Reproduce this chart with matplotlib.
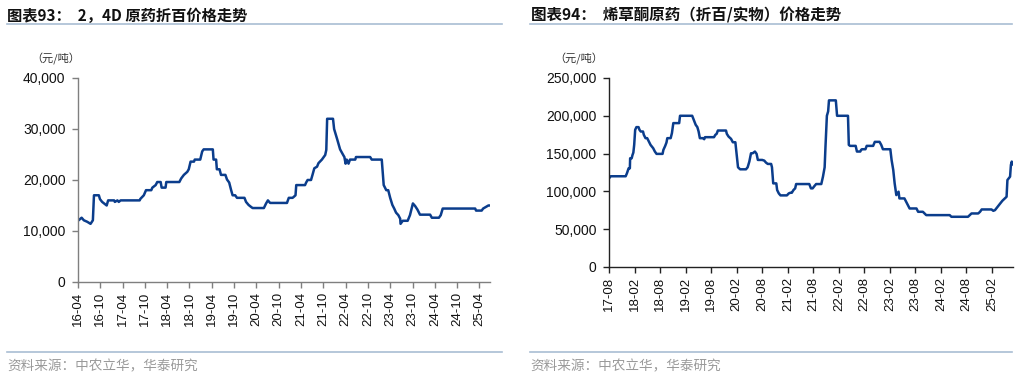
import matplotlib
matplotlib.use("Agg")
import matplotlib.pyplot as plt
import pandas as pd
from matplotlib.ticker import FuncFormatter

plt.rcParams['font.family'] = ['Liberation Sans', 'Noto Sans CJK SC', 'DejaVu Sans']

# ---------- Chart 93: 2,4D price ----------
d24_dates = [
    "2016-04-01", "2016-05-01", "2016-05-19", "2016-06-16", "2016-07-13", "2016-08-01",
    "2016-08-10", "2016-09-19", "2016-09-28", "2016-10-16", "2016-11-22", "2016-12-04",
    "2017-01-22", "2017-01-28", "2017-02-18", "2017-03-01", "2017-03-16", "2017-08-19",
    "2017-08-25", "2017-09-22", "2017-10-10", "2017-11-22", "2017-12-01", "2017-12-28",
    "2018-01-10", "2018-02-07", "2018-02-15", "2018-03-19", "2018-03-25", "2018-07-10",
    "2018-07-25", "2018-08-16", "2018-09-13", "2018-09-25", "2018-10-10", "2018-11-07",
    "2018-11-13", "2018-12-28", "2019-01-13", "2019-01-25", "2019-04-10", "2019-04-16",
    "2019-05-07", "2019-05-13", "2019-06-04", "2019-06-16", "2019-07-22", "2019-08-04",
    "2019-08-22", "2019-09-07", "2019-09-19", "2019-10-10", "2019-10-25", "2019-12-25",
    "2020-01-07", "2020-01-28", "2020-02-18", "2020-03-01", "2020-06-01", "2020-06-19",
    "2020-07-04", "2020-07-22", "2020-12-07", "2020-12-22", "2021-01-22", "2021-02-01",
    "2021-02-15", "2021-02-21", "2021-05-04", "2021-05-13", "2021-05-25", "2021-06-22",
    "2021-07-04", "2021-07-19", "2021-08-10", "2021-08-22", "2021-09-19", "2021-10-04",
    "2021-10-16", "2021-10-25", "2021-11-01", "2021-12-19", "2021-12-28", "2022-01-22",
    "2022-02-15", "2022-03-10", "2022-03-22", "2022-04-01", "2022-04-10", "2022-04-25",
    "2022-05-07", "2022-06-19", "2022-06-25", "2022-10-19", "2022-11-01", "2023-01-22",
    "2023-02-07", "2023-02-28", "2023-03-16", "2023-04-01", "2023-04-19", "2023-05-04",
    "2023-05-19", "2023-06-07", "2023-06-22", "2023-06-25", "2023-07-13", "2023-08-22",
    "2023-09-10", "2023-10-04", "2023-10-22", "2023-11-10", "2023-12-01", "2024-02-22",
    "2024-03-07", "2024-05-04", "2024-05-19", "2024-06-04", "2025-02-25", "2025-03-04",
    "2025-04-19", "2025-05-01", "2025-06-13", "2025-06-25",
]
d24_values = [
    12000, 12600, 12100, 11800, 11400, 12100,
    17000, 17000, 16250, 15700, 15000, 16000,
    16000, 15700, 16000, 15700, 16000, 16000,
    16300, 17000, 18000, 18000, 18500, 19000,
    19600, 19600, 18500, 18500, 19600, 19600,
    20300, 21000, 21600, 22100, 23600, 23600,
    24000, 24000, 25600, 26000, 26000, 24000,
    24000, 22100, 22100, 21000, 21000, 20100,
    19500, 18000, 17000, 17000, 16500, 16500,
    15700, 15100, 14700, 14500, 14500, 15400,
    16000, 15500, 15500, 16500, 16500, 16700,
    17000, 19000, 19000, 19500, 20000, 20000,
    21000, 22300, 22600, 23300, 24000, 24500,
    24900, 25900, 32000, 32000, 30000, 28000,
    26000, 25000, 24500, 23200, 24000, 23200,
    24000, 24000, 24500, 24500, 24000, 24000,
    19000, 18000, 18000, 16500, 15100, 14400,
    13600, 13100, 12400, 11400, 12000, 12000,
    13100, 15400, 14900, 14200, 13200, 13200,
    12600, 12600, 13100, 14400, 14400, 14000,
    14000, 14400, 15000, 15000,
]
d24_ticks = ["16-04", "16-10", "17-04", "17-10", "18-04", "18-10", "19-04", "19-10",
             "20-04", "20-10", "21-04", "21-10", "22-04", "22-10", "23-04", "23-10",
             "24-04", "24-10", "25-04"]

# ---------- Chart 94: clethodim price ----------
cle_dates = [
    "2017-08-01", "2017-08-13", "2017-11-28", "2017-12-07", "2017-12-19", "2017-12-28",
    "2017-12-30", "2018-01-10", "2018-01-16", "2018-01-22", "2018-01-28", "2018-02-04",
    "2018-02-13", "2018-02-28", "2018-03-07", "2018-03-16", "2018-04-01", "2018-04-07",
    "2018-04-19", "2018-05-01", "2018-05-13", "2018-05-25", "2018-06-13", "2018-06-25",
    "2018-07-07", "2018-08-19", "2018-08-25", "2018-09-07", "2018-09-16", "2018-09-22",
    "2018-10-16", "2018-10-25", "2018-11-04", "2018-12-16", "2018-12-22", "2019-03-19",
    "2019-04-01", "2019-04-13", "2019-04-25", "2019-05-04", "2019-05-13", "2019-06-07",
    "2019-06-13", "2019-06-19", "2019-08-22", "2019-09-01", "2019-09-10", "2019-09-19",
    "2019-11-16", "2019-11-22", "2019-12-04", "2019-12-22", "2020-01-04", "2020-01-22",
    "2020-02-01", "2020-02-10", "2020-02-25", "2020-04-07", "2020-04-19", "2020-05-01",
    "2020-05-13", "2020-05-25", "2020-06-10", "2020-06-22", "2020-07-01", "2020-08-01",
    "2020-08-16", "2020-08-28", "2020-09-10", "2020-10-04", "2020-10-10", "2020-10-19",
    "2020-11-10", "2020-11-16", "2020-11-28", "2020-12-10", "2021-01-25", "2021-02-07",
    "2021-02-19", "2021-03-01", "2021-03-13", "2021-03-25", "2021-04-01", "2021-07-04",
    "2021-07-13", "2021-07-16", "2021-07-28", "2021-08-10", "2021-08-22", "2021-09-28",
    "2021-10-10", "2021-10-22", "2021-10-28", "2021-11-07", "2021-11-16", "2021-11-22",
    "2022-01-10", "2022-01-19", "2022-04-07", "2022-04-13", "2022-04-22", "2022-06-01",
    "2022-06-10", "2022-07-04", "2022-07-10", "2022-07-16", "2022-08-10", "2022-08-19",
    "2022-10-04", "2022-10-16", "2022-11-19", "2022-12-01", "2022-12-13", "2023-02-04",
    "2023-02-13", "2023-02-25", "2023-03-07", "2023-03-19", "2023-04-04", "2023-04-10",
    "2023-05-16", "2023-06-10", "2023-06-22", "2023-08-10", "2023-08-22", "2023-09-25",
    "2023-10-07", "2023-10-19", "2024-04-04", "2024-04-16", "2024-08-13", "2024-08-25",
    "2024-09-07", "2024-10-25", "2024-11-07", "2024-11-19", "2025-01-28", "2025-02-10",
    "2025-02-22", "2025-03-16", "2025-03-28", "2025-04-16", "2025-05-04", "2025-05-16",
    "2025-05-22", "2025-06-10", "2025-06-16", "2025-06-22", "2025-06-28",
]
cle_values = [
    117300, 120000, 120000, 123900, 130500, 130500,
    143800, 143800, 148200, 151300, 161500, 181400,
    185000, 185000, 181400, 179200, 179200, 174800,
    170400, 170400, 165900, 161500, 157100, 152700,
    149600, 149600, 154900, 160200, 164600, 170400,
    170400, 177000, 190300, 190300, 200000, 200000,
    193800, 188100, 185000, 179200, 170400, 170400,
    169000, 171700, 171700, 174800, 176100, 180500,
    180500, 176100, 172600, 169500, 165000, 165000,
    148200, 131900, 129200, 129200, 131900, 139400,
    150400, 150400, 152700, 149600, 141600, 141600,
    140700, 138100, 136300, 136300, 131900, 110600,
    110600, 101800, 97300, 94700, 94700, 97300,
    98200, 98200, 101800, 104000, 109700, 109700,
    105300, 104000, 104000, 107100, 109700, 109700,
    119500, 131900, 159300, 200000, 205800, 220400,
    220400, 200000, 200000, 161500, 160200, 160200,
    152700, 152700, 154900, 155750, 155750, 160200,
    160200, 165500, 165500, 161500, 155750, 155750,
    141600, 128300, 110600, 95100, 99600, 90700,
    90700, 81900, 77400, 77400, 73000, 73000,
    70800, 68600, 68600, 66400, 66400, 68600,
    70800, 70800, 73000, 76100, 76100, 74300,
    75200, 80500, 83200, 87600, 90700, 92900,
    115000, 119500, 135000, 139400, 135800,
]
cle_ticks = ["17-08", "18-02", "18-08", "19-02", "19-08", "20-02", "20-08", "21-02",
             "21-08", "22-02", "22-08", "23-02", "23-08", "24-02", "24-08", "25-02"]

LINE = "#0b3d8c"
RULE = "#a9bdd3"
CJK = ['Noto Sans CJK SC', 'DejaVu Sans']

fig = plt.figure(figsize=(10.3, 3.78), dpi=100)

def tick_dates(labels):
    return [pd.Timestamp("20" + s[:2] + "-" + s[3:] + "-01") for s in labels]

def style(ax, spine_color):
    for s in ["top", "right"]:
        ax.spines[s].set_visible(False)
    for s in ["left", "bottom"]:
        ax.spines[s].set_color(spine_color)
        ax.spines[s].set_linewidth(1.0)
    ax.tick_params(axis="both", colors=spine_color, labelcolor="#111111",
                   length=4, width=1.0, direction="out")
    ax.tick_params(axis="y", labelsize=10, pad=5)
    ax.tick_params(axis="x", labelsize=9.5, pad=3)
    ax.yaxis.set_major_formatter(FuncFormatter(lambda v, p: f"{int(v):,}"))

# Left chart
ax1 = fig.add_axes([0.0757, 0.254, 0.400, 0.5397])
ax1.plot(pd.to_datetime(d24_dates), d24_values, color=LINE, lw=1.8)
ax1.set_ylim(0, 40000)
ax1.set_yticks([0, 10000, 20000, 30000, 40000])
ax1.set_xticks(tick_dates(d24_ticks))
ax1.set_xticklabels(d24_ticks, rotation=90)
ax1.set_xlim(pd.Timestamp("2016-04-01"), pd.Timestamp("2025-06-26"))
style(ax1, "#7f7f7f")

# Right chart
ax2 = fig.add_axes([0.5913, 0.2937, 0.3922, 0.5])
ax2.plot(pd.to_datetime(cle_dates), cle_values, color=LINE, lw=1.8)
ax2.set_ylim(0, 250000)
ax2.set_yticks([0, 50000, 100000, 150000, 200000, 250000])
ax2.set_xticks(tick_dates(cle_ticks))
ax2.set_xticklabels(cle_ticks, rotation=90)
ax2.set_xlim(pd.Timestamp("2017-08-01"), pd.Timestamp("2025-07-01"))
style(ax2, "#222222")

# Titles
fig.text(0.007, 0.958, "图表93：  2，4D 原药折百价格走势", family=CJK, fontsize=11,
         fontweight="bold", color="#111111", va="center", ha="left")
fig.text(0.516, 0.958, "图表94：  烯草酮原药（折百/实物）价格走势", family=CJK, fontsize=11.2,
         fontweight="bold", color="#111111", va="center", ha="left")
fig.add_artist(plt.Line2D([0.007, 0.487], [0.937, 0.937], color=RULE, lw=1.2))
fig.add_artist(plt.Line2D([0.515, 0.983], [0.937, 0.937], color=RULE, lw=1.2))

# Units
fig.text(0.030, 0.843, "（元/吨）", family=CJK, fontsize=8, color="#333333",
         va="center", ha="left")
fig.text(0.538, 0.843, "（元/吨）", family=CJK, fontsize=8, color="#333333",
         va="center", ha="left")

# Source lines
fig.add_artist(plt.Line2D([0.007, 0.487], [0.068, 0.068], color=RULE, lw=1.2))
fig.add_artist(plt.Line2D([0.515, 0.983], [0.068, 0.068], color=RULE, lw=1.2))
fig.text(0.007, 0.032, "资料来源：中农立华，华泰研究", family=CJK, fontsize=9.8,
         fontweight="light", color="#9a9a9a", va="center", ha="left")
fig.text(0.515, 0.032, "资料来源：中农立华，华泰研究", family=CJK, fontsize=9.8,
         fontweight="light", color="#9a9a9a", va="center", ha="left")

fig.savefig("out.png", dpi=100)
